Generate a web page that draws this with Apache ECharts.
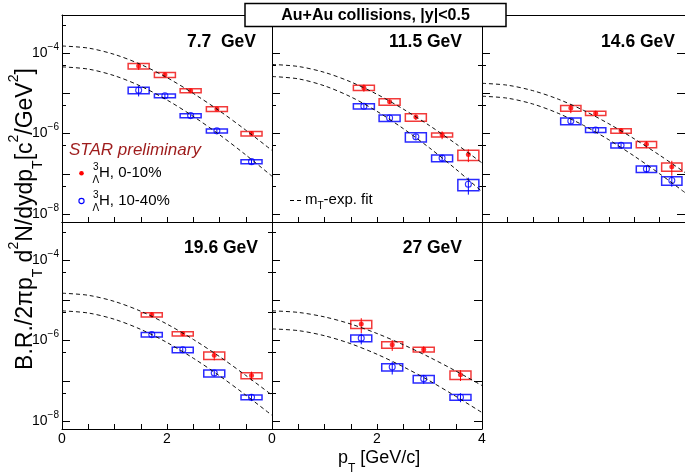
<!DOCTYPE html>
<html>
<head>
<meta charset="utf-8">
<script src="https://cdn.jsdelivr.net/npm/echarts@6/dist/echarts.min.js"></script>
<style>
html, body { margin: 0; padding: 0; background: #fff; }
#chart { width: 685px; height: 475px; }
</style>
</head>
<body>
<div id="chart"></div>
<script>
// values (pT in GeV/c, yields in c^2/GeV^2)
// stat / sys are relative errors, sys gives the box height
const fitPt = [0, 0.5, 1, 1.5, 2, 2.5, 3, 3.5, 4]

// 7.7 GeV
const pt77 = [1.46, 1.96, 2.45, 2.95, 3.61]
const cen77 = [4.8e-5, 2.9e-5, 1.17e-5, 4.1e-6, 1.0e-6]
const cenStat77 = [0.2, 0.1, 0.08, 0.08, 0.12]
const cenSys77 = [0.16, 0.14, 0.11, 0.14, 0.13]
const per77 = [1.2e-5, 8.7e-6, 2.8e-6, 1.17e-6, 2.0e-7]
const perStat77 = [0.3, 0.12, 0.08, 0.1, 0.15]
const perSys77 = [0.19, 0.11, 0.115, 0.115, 0.115]
const fitCen77 = [1.51e-4, 1.34e-4, 9.3e-5, 5.25e-5, 2.47e-5, 1.0e-5, 3.67e-6, 1.22e-6, 3.8e-7]
const fitPer77 = [4.57e-5, 4.02e-5, 2.75e-5, 1.51e-5, 6.85e-6, 2.68e-6, 9.35e-7, 2.95e-7, 8.7e-8]

// 11.5 GeV
const pt115 = [1.75, 2.24, 2.74, 3.24, 3.74]
const cen115 = [1.38e-5, 6.2e-6, 2.57e-6, 9.3e-7, 3.0e-7]
const cenStat115 = [0.2, 0.12, 0.15, 0.22, 0.35]
const cenSys115 = [0.15, 0.18, 0.21, 0.115, 0.29]
const per115 = [4.8e-6, 2.45e-6, 8.3e-7, 2.45e-7, 5.5e-8]
const perStat115 = [0.12, 0.12, 0.15, 0.2, 0.45]
const perSys115 = [0.15, 0.19, 0.26, 0.19, 0.31]
const fitCen115 = [5.25e-5, 4.67e-5, 3.33e-5, 1.93e-5, 9.5e-6, 4.07e-6, 1.58e-6, 5.6e-7, 1.86e-7]
const fitPer115 = [2.63e-5, 2.3e-5, 1.54e-5, 8.2e-6, 3.57e-6, 1.33e-6, 4.4e-7, 1.31e-7, 3.6e-8]

// 14.6 GeV
const pt146 = [1.75, 2.24, 2.74, 3.24, 3.74]
const cen146 = [4.3e-6, 3.2e-6, 1.17e-6, 5.4e-7, 1.5e-7]
const cenStat146 = [0.25, 0.15, 0.15, 0.2, 0.4]
const cenSys146 = [0.16, 0.115, 0.13, 0.18, 0.23]
const per146 = [2.05e-6, 1.23e-6, 5.1e-7, 1.32e-7, 6.8e-8]
const perStat146 = [0.15, 0.1, 0.1, 0.2, 0.3]
const perSys146 = [0.19, 0.13, 0.14, 0.19, 0.24]
const fitCen146 = [1.78e-5, 1.6e-5, 1.17e-5, 7.2e-6, 3.78e-6, 1.75e-6, 7.4e-7, 2.9e-7, 1.07e-7]
const fitPer146 = [8.5e-6, 7.6e-6, 5.45e-6, 3.2e-6, 1.6e-6, 7.0e-7, 2.75e-7, 1.0e-7, 3.4e-8]

// 19.6 GeV
const pt196 = [1.71, 2.30, 2.90, 3.61]
const cen196 = [4.4e-6, 1.48e-6, 4.3e-7, 1.35e-7]
const cenStat196 = [0.15, 0.12, 0.25, 0.25]
const cenSys196 = [0.125, 0.125, 0.21, 0.17]
const per196 = [1.41e-6, 5.9e-7, 1.55e-7, 3.9e-8]
const perStat196 = [0.12, 0.1, 0.15, 0.2]
const perSys196 = [0.125, 0.16, 0.2, 0.14]
const fitCen196 = [1.51e-5, 1.34e-5, 9.4e-6, 5.37e-6, 2.57e-6, 1.07e-6, 4.0e-7, 1.36e-7, 4.4e-8]
const fitPer196 = [5.5e-6, 4.85e-6, 3.38e-6, 1.9e-6, 8.95e-7, 3.65e-7, 1.33e-7, 4.4e-8, 1.38e-8]

// 27 GeV
const pt27 = [1.70, 2.29, 2.89, 3.59]
const cen27 = [2.57e-6, 7.9e-7, 6.0e-7, 1.41e-7]
const cenStat27 = [0.4, 0.3, 0.2, 0.3]
const cenSys27 = [0.22, 0.19, 0.14, 0.24]
const per27 = [1.15e-6, 2.2e-7, 1.12e-7, 3.9e-8]
const perStat27 = [0.3, 0.35, 0.25, 0.25]
const perSys27 = [0.19, 0.2, 0.21, 0.16]
const fitCen27 = [5.5e-6, 5.02e-6, 3.88e-6, 2.58e-6, 1.5e-6, 7.9e-7, 3.85e-7, 1.75e-7, 7.6e-8]
const fitPer27 = [1.95e-6, 1.77e-6, 1.32e-6, 8.35e-7, 4.57e-7, 2.23e-7, 1.0e-7, 4.1e-8, 1.62e-8]

// axis ticks
const xLabels = [0, 2, 4]
const yMajor = [1e-8, 1e-7, 1e-6, 1e-5, 1e-4]
const yMinor = [5e-8, 5e-7, 5e-6, 5e-5, 5e-4]
const yLabels = [1e-8, 1e-6, 1e-4]

const panels = [
    { label: '7.7  GeV', pt: pt77, cen: cen77, cenStat: cenStat77, cenSys: cenSys77, per: per77, perStat: perStat77, perSys: perSys77, fitCen: fitCen77, fitPer: fitPer77 },
    { label: '11.5 GeV', pt: pt115, cen: cen115, cenStat: cenStat115, cenSys: cenSys115, per: per115, perStat: perStat115, perSys: perSys115, fitCen: fitCen115, fitPer: fitPer115 },
    { label: '14.6 GeV', pt: pt146, cen: cen146, cenStat: cenStat146, cenSys: cenSys146, per: per146, perStat: perStat146, perSys: perSys146, fitCen: fitCen146, fitPer: fitPer146 },
    { label: '19.6 GeV', pt: pt196, cen: cen196, cenStat: cenStat196, cenSys: cenSys196, per: per196, perStat: perStat196, perSys: perSys196, fitCen: fitCen196, fitPer: fitPer196 },
    { label: '27 GeV', pt: pt27, cen: cen27, cenStat: cenStat27, cenSys: cenSys27, per: per27, perStat: perStat27, perSys: perSys27, fitCen: fitCen27, fitPer: fitPer27 }
]

const FONT = '"Liberation Sans", Arial, Helvetica, sans-serif'
const RED = '#ff0000', RED_BOX = '#f23a3a'
const BLUE = '#0000ff', BLUE_BOX = '#2a2aff'
const W = 210, H = 207
const cells = [[62, 15], [272, 15], [482, 15], [62, 222], [272, 222]]
const labelPos = [[256, 42], [462, 42], [675, 42], [258, 248], [462, 248]]
const yMin = Math.pow(10, -8.2), yMax = Math.pow(10, -3.05)
const binHalf = 0.2

const powLabel = (v) => '{b|10}{e|' + String(Math.round(Math.log10(v))).replace('-', '\u2212') + '}'

const grid = [], xAxis = [], yAxis = [], series = [], graphic = []

cells.forEach(([l, t], i) => {
    const bottomRow = i >= 3
    const leftCol = i === 0 || i === 3
    const rightTicks = i === 2 || i === 4
    grid.push({ left: l, top: t, width: W, height: H })

    xAxis.push({
        type: 'value', gridIndex: i, min: 0, max: 4, interval: 0.5,
        axisLine: { onZero: false, lineStyle: { color: '#000', width: 1 } },
        axisTick: { inside: true, length: 5, lineStyle: { color: '#000' } },
        axisLabel: {
            show: bottomRow, margin: 3, color: '#000', fontSize: 14, fontFamily: FONT,
            formatter: (v) => (xLabels.indexOf(v) >= 0 && !(v === 4 && i === 3)) ? String(v) : ''
        },
        splitLine: { show: false }
    })
    xAxis.push({
        type: 'value', gridIndex: i, position: 'top', min: 0, max: 4,
        axisLine: { onZero: false, lineStyle: { color: '#000', width: 1 } },
        axisTick: { show: false }, axisLabel: { show: false }, splitLine: { show: false }
    })

    const yBase = { type: 'log', logBase: 10, gridIndex: i, min: yMin, max: yMax, splitLine: { show: false } }
    yAxis.push(Object.assign({}, yBase, {
        position: 'left',
        axisLine: { onZero: false, lineStyle: { color: '#000', width: 1 } },
        axisTick: { inside: true, length: 8, customValues: yMajor, lineStyle: { color: '#000' } },
        axisLabel: {
            show: leftCol, customValues: yLabels, margin: 3, formatter: powLabel,
            rich: {
                b: { fontSize: 14, fontFamily: FONT, color: '#000', lineHeight: 22 },
                e: { fontSize: 10, fontFamily: FONT, color: '#000', lineHeight: 12, verticalAlign: 'top' }
            }
        }
    }))
    yAxis.push(Object.assign({}, yBase, {
        position: 'left', axisLine: { show: false },
        axisTick: { inside: true, length: 4, customValues: yMinor, lineStyle: { color: '#000' } },
        axisLabel: { show: false }
    }))
    yAxis.push(Object.assign({}, yBase, {
        position: 'right',
        axisLine: { onZero: false, lineStyle: { color: '#000', width: 1 } },
        axisTick: { show: rightTicks, inside: true, length: 8, customValues: yMajor, lineStyle: { color: '#000' } },
        axisLabel: { show: false }
    }))
    yAxis.push(Object.assign({}, yBase, {
        position: 'right', axisLine: { show: false },
        axisTick: { show: rightTicks, inside: true, length: 4, customValues: yMinor, lineStyle: { color: '#000' } },
        axisLabel: { show: false }
    }))

    const p = panels[i]
    const xi = i * 2, yi = i * 4

    const boxes = (vals, sys, color) => ({
        type: 'custom', xAxisIndex: xi, yAxisIndex: yi, silent: true,
        data: p.pt.map((x, k) => [x, vals[k], sys[k]]),
        renderItem: (params, api) => {
            const x = api.value(0), v = api.value(1), s = api.value(2)
            const a = api.coord([x - binHalf, v * (1 + s)])
            const b = api.coord([x + binHalf, v * (1 - s)])
            return {
                type: 'rect',
                shape: { x: a[0], y: a[1], width: b[0] - a[0], height: b[1] - a[1] },
                style: { fill: 'none', stroke: color, lineWidth: 1.5 }
            }
        }
    })
    const bars = (vals, stat, color) => ({
        type: 'custom', xAxisIndex: xi, yAxisIndex: yi, silent: true,
        data: p.pt.map((x, k) => [x, vals[k], stat[k]]),
        renderItem: (params, api) => {
            const x = api.value(0), v = api.value(1), s = api.value(2)
            const a = api.coord([x, v * (1 + s)])
            const b = api.coord([x, v * (1 - s)])
            return {
                type: 'line',
                shape: { x1: a[0], y1: a[1], x2: b[0], y2: b[1] },
                style: { stroke: color, lineWidth: 1 }
            }
        }
    })
    const fit = (vals) => ({
        type: 'line', xAxisIndex: xi, yAxisIndex: yi, silent: true,
        data: fitPt.map((x, k) => [x, vals[k]]),
        smooth: 0.3, showSymbol: false, symbol: 'none',
        lineStyle: { color: '#111', width: 1, type: [4, 3] }
    })

    series.push(boxes(p.cen, p.cenSys, RED_BOX))
    series.push(boxes(p.per, p.perSys, BLUE_BOX))
    series.push(fit(p.fitCen))
    series.push(fit(p.fitPer))
    series.push(bars(p.cen, p.cenStat, RED))
    series.push(bars(p.per, p.perStat, BLUE))
    series.push({
        type: 'scatter', xAxisIndex: xi, yAxisIndex: yi, silent: true,
        data: p.pt.map((x, k) => [x, p.cen[k]]),
        symbol: 'circle', symbolSize: 5, itemStyle: { color: RED }
    })
    series.push({
        type: 'scatter', xAxisIndex: xi, yAxisIndex: yi, silent: true,
        data: p.pt.map((x, k) => [x, p.per[k]]),
        symbol: 'circle', symbolSize: 6,
        itemStyle: { color: 'rgba(0,0,0,0)', borderColor: BLUE, borderWidth: 1.1 }
    })

    graphic.push({
        type: 'text', x: labelPos[i][0], y: labelPos[i][1], z: 50,
        style: {
            text: p.label, fontSize: 17.5, fontWeight: 'bold', fontFamily: FONT, fill: '#000',
            align: 'right', verticalAlign: 'middle', textAlign: 'right', textVerticalAlign: 'middle'
        }
    })
})

const txt = (x, y, text, extra) => ({
    type: 'text', x: x, y: y, z: 60,
    style: Object.assign({
        text: text, fontSize: 15, fontFamily: FONT, fill: '#000',
        align: 'left', verticalAlign: 'middle', textAlign: 'left', textVerticalAlign: 'middle'
    }, extra || {})
})

// title box
graphic.push({
    type: 'rect', z: 59, shape: { x: 245, y: 3.5, width: 261, height: 23 },
    style: { fill: '#fff', stroke: '#000', lineWidth: 1.5 }
})
graphic.push(txt(375.5, 15.5, 'Au+Au collisions, |y|<0.5', {
    fontSize: 16, fontWeight: 'bold', align: 'center', textAlign: 'center'
}))

// legend of the first panel
graphic.push(txt(69, 150, 'STAR preliminary', { fontSize: 17, fontStyle: 'italic', fill: '#9e1c1c' }))
graphic.push({ type: 'circle', z: 60, shape: { cx: 81.5, cy: 173.3, r: 2.3 }, style: { fill: RED } })
graphic.push(txt(93, 167.5, '3', { fontSize: 10 }))
graphic.push(txt(92.5, 180.5, '\u039b', { fontSize: 10 }))
graphic.push(txt(99, 173.3, 'H, 0-10%'))
graphic.push({ type: 'circle', z: 60, shape: { cx: 81.5, cy: 201, r: 2.6 }, style: { fill: 'none', stroke: BLUE, lineWidth: 1.1 } })
graphic.push(txt(93, 195.2, '3', { fontSize: 10 }))
graphic.push(txt(92.5, 208.2, '\u039b', { fontSize: 10 }))
graphic.push(txt(99, 201, 'H, 10-40%'))

// fit legend of the second panel
graphic.push({
    type: 'line', z: 60, shape: { x1: 290, y1: 200.5, x2: 302, y2: 200.5 },
    style: { stroke: '#000', lineWidth: 1, lineDash: [4, 3] }
})
graphic.push(txt(305, 200, '{n|m}{s|T}{n|-exp. fit}', {
    rich: {
        n: { fontSize: 15, fontFamily: FONT, fill: '#000', lineHeight: 22 },
        s: { fontSize: 10, fontFamily: FONT, fill: '#000', lineHeight: 10, verticalAlign: 'bottom' }
    }
}))

// axis titles
graphic.push(txt(338, 458, '{n|p}{s|T}{n| [GeV/c]}', {
    rich: {
        n: { fontSize: 18, fontFamily: FONT, fill: '#000', lineHeight: 34 },
        s: { fontSize: 12, fontFamily: FONT, fill: '#000', lineHeight: 12, verticalAlign: 'bottom' }
    }
}))
graphic.push({
    type: 'text', x: 26, y: 219, rotation: Math.PI / 2, z: 60,
    style: {
        text: '{n|B.R./2\u03c0p}{s|T}{n| d}{u|2}{n|N/dydp}{s|T}{n|[c}{u|2}{n|/GeV}{u|2}{n|]}',
        align: 'center', verticalAlign: 'middle', textAlign: 'center', textVerticalAlign: 'middle',
        rich: {
            n: { fontSize: 23, fontFamily: FONT, fill: '#000', lineHeight: 38 },
            s: { fontSize: 14, fontFamily: FONT, fill: '#000', lineHeight: 14, verticalAlign: 'bottom' },
            u: { fontSize: 14, fontFamily: FONT, fill: '#000', lineHeight: 22, verticalAlign: 'top' }
        }
    }
})

const chart = echarts.init(document.getElementById('chart'), null, { renderer: 'canvas' })
chart.setOption({
    animation: false,
    backgroundColor: '#fff',
    grid: grid,
    xAxis: xAxis,
    yAxis: yAxis,
    series: series,
    graphic: graphic
})
</script>
</body>
</html>
